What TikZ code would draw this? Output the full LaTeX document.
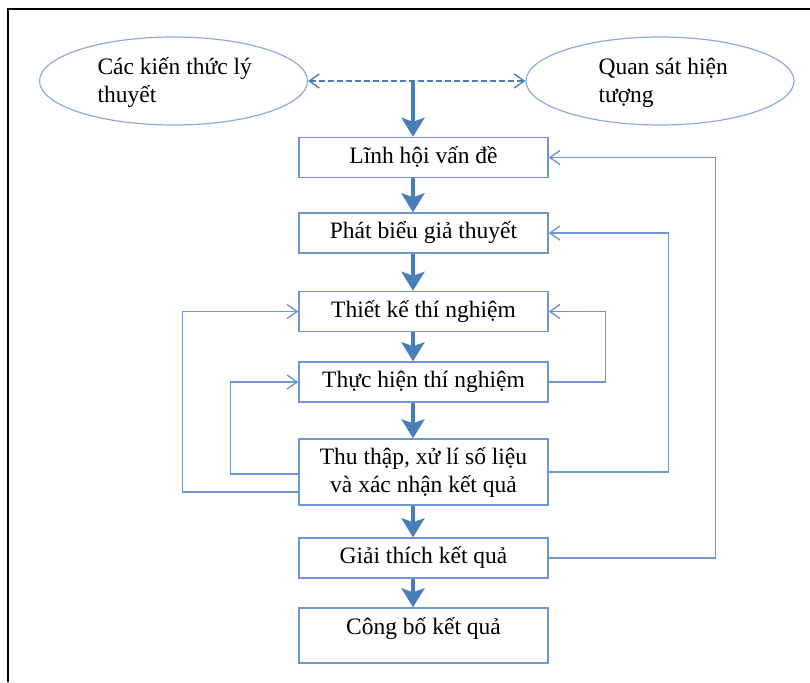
\documentclass[tikz,border=0pt]{standalone}
\usepackage{fontspec}
\setmainfont{Liberation Serif}
\usetikzlibrary{arrows.meta, shapes.geometric}
\definecolor{boxblue}{RGB}{110,150,210}
\definecolor{ovalblue}{RGB}{140,170,220}
\definecolor{flowblue}{RGB}{74,126,187}
\tikzset{
    stepbox/.style={draw=boxblue, line width=1.4pt, minimum width=249pt, minimum height=40pt, inner sep=0pt, align=center},
    onelinebox/.style={stepbox, text height=17pt, text depth=6pt},
    idea/.style={ellipse, draw=ovalblue, line width=1.2pt, minimum width=268pt, minimum height=88pt},
    flow/.style={draw=flowblue, line width=4pt, -{Stealth[length=19pt, width=23pt, inset=4pt]}},
    feedback/.style={draw=boxblue, line width=1.4pt, -{Straight Barb[length=10pt, width=14pt]}},
    twoway/.style={draw=flowblue, line width=1.4pt, dash pattern=on 6pt off 3pt,
        {Straight Barb[length=10pt, width=14pt]}-{Straight Barb[length=10pt, width=14pt]}}
}

\begin{document}
\begin{tikzpicture}[x=1pt, y=-1pt, font=\fontsize{23.5}{28}\selectfont]
    \useasboundingbox (0, 0) rectangle (810, 682);
    \draw[line width=2.2pt] (8, 682) |- (810, 9);
    % sources
    \node[idea] (theory) at (173.5, 81) {};
    \node[align=left, anchor=west] (theorytext) at (94, 83) {Các kiến thức lý\\thuyết};
    \node[idea] (observe) at (660, 81) {};
    \node[align=left, anchor=west] (observetext) at (595, 83) {Quan sát hiện\\tượng};
    \draw[twoway] (theory.east) -- (observe.west);
    % steps
    \node[onelinebox] (b1) at (423.5, 157.5) {Lĩnh hội vấn đề};
    \node[onelinebox] (b2) at (423.5, 233) {Phát biểu giả thuyết};
    \node[onelinebox] (b3) at (423.5, 311.5) {Thiết kế thí nghiệm};
    \node[onelinebox] (b4) at (423.5, 382) {Thực hiện thí nghiệm};
    \node[stepbox, minimum height=66pt] (b5) at (423.5, 472) {Thu thập, xử lí số liệu\\và xác nhận kết quả};
    \node[onelinebox] (b6) at (423.5, 558) {Giải thích kết quả};
    \node[onelinebox, text height=26.5pt, text depth=28.5pt] (b7) at (423.5, 635.5) {Công bố kết quả};
    % main flow
    \coordinate (spine) at (413, 81);
    \draw[flow] (spine) -- (b1.north -| spine);
    \draw[flow] (b1.south -| spine) -- (b2.north -| spine);
    \draw[flow] (b2.south -| spine) -- (b3.north -| spine);
    \draw[flow] (b3.south -| spine) -- (b4.north -| spine);
    \draw[flow] (b4.south -| spine) -- (b5.north -| spine);
    \draw[flow] (b5.south -| spine) -- (b6.north -| spine);
    \draw[flow] (b6.south -| spine) -- (b7.north -| spine);
    % feedback loops
    \draw[feedback] ([yshift=-20pt]b5.west) -- ++(-116, 0) |- (b3.west);
    \draw[feedback] ([yshift=-2pt]b5.west) -- ++(-68, 0) |- (b4.west);
    \draw[feedback] (b4.east) -- ++(57, 0) |- (b3.east);
    \draw[feedback] (b5.east) -- ++(120, 0) |- (b2.east);
    \draw[feedback] (b6.east) -- ++(167, 0) |- (b1.east);
\end{tikzpicture}
\end{document}
